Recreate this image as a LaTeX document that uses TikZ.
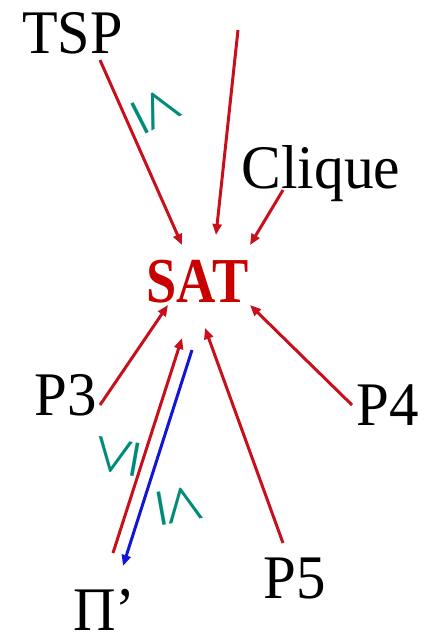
\documentclass[tikz,border=0pt]{standalone}
\usepackage{fontspec}
\setmainfont{Liberation Serif}
\usetikzlibrary{arrows.meta}
\definecolor{arred}{RGB}{200,16,28}
\definecolor{satred}{RGB}{200,0,0}
\definecolor{arblue}{RGB}{20,20,215}
\definecolor{symteal}{RGB}{0,140,120}
\tikzset{
  lbl/.style={inner sep=0pt, anchor=base, font=\fontsize{62}{62}\selectfont},
  redarr/.style={draw=arred, line width=3pt, -{Triangle[length=11pt,width=9pt]}},
  bluearr/.style={draw=arblue, line width=3pt, -{Triangle[length=11pt,width=9pt]}},
  relsym/.style={inner sep=0pt, text=symteal, font=\fontsize{72}{72}\selectfont}
}
\begin{document}
\begin{tikzpicture}[x=1pt,y=-1pt]
\useasboundingbox (0,0) rectangle (424,641);
% labels
\node[lbl] (tsp) at (72.5,53) {\scalebox{0.94}[1]{TSP}};
\node[lbl] (clique) at (321,188) {\scalebox{0.96}[1]{Clique}};
\node[lbl] (p3) at (66,415) {\scalebox{0.95}[1]{P3}};
\node[lbl] (p4) at (388,425) {\scalebox{0.95}[1]{P4}};
\node[lbl] (p5) at (295,598) {\scalebox{0.95}[1]{P5}};
\node[lbl] (pi) at (104.5,630) {\scalebox{0.95}[1]{Π’}};
\node[lbl, text=satred, font=\fontsize{64}{64}\selectfont\bfseries] (sat) at (197.5,302) {\scalebox{0.85}[1]{SAT}};
% connector ends
\coordinate (tspS) at (100,60);
\coordinate (tspT) at (182,245);
\coordinate (topS) at (238,30);
\coordinate (topT) at (216,235);
\coordinate (cliS) at (283,190);
\coordinate (cliT) at (250,245);
\coordinate (p3S) at (100,405);
\coordinate (p3T) at (168,305);
\coordinate (p4S) at (352,405);
\coordinate (p4T) at (250,305);
\coordinate (p5S) at (283,543);
\coordinate (p5T) at (205,328);
\coordinate (piS) at (113,553);
\coordinate (piT) at (182,338);
\coordinate (blS) at (192,350);
\coordinate (blT) at (123,566);
% connectors
\draw[redarr] (tspS) -- (tspT);
\draw[redarr] (topS) -- (topT);
\draw[redarr] (cliS) -- (cliT);
\draw[redarr] (p3S) -- (p3T);
\draw[redarr] (p4S) -- (p4T);
\draw[redarr] (p5S) -- (p5T);
\draw[redarr] (piS) -- (piT);
\draw[bluearr] (blS) -- (blT);
% relation symbols
\node[relsym, rotate=-63] (s1) at (157,110) {≤};
\node[relsym, rotate=80] (s2) at (117,456) {≤};
\node[relsym, rotate=-80] (s3) at (180,505) {≤};
\end{tikzpicture}
\end{document}
